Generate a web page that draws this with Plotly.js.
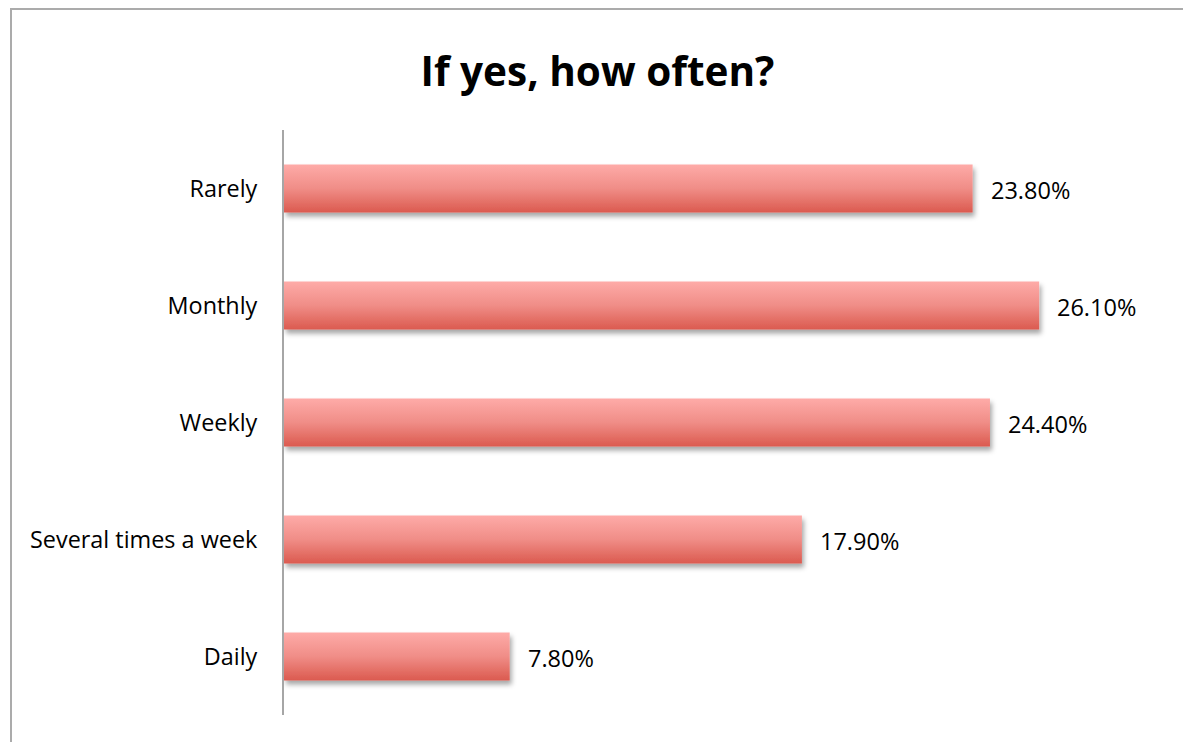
<!DOCTYPE html>
<html>
<head>
<meta charset="utf-8">
<script src="https://cdn.plot.ly/plotly-3.0.1.min.js"></script>
<style>
  html, body { margin: 0; padding: 0; background: #fff; overflow: hidden; }
  #frame { position: absolute; left: 10px; top: 8px; width: 1400px; height: 1000px;
           border-left: 2px solid #ABABAB; border-top: 2px solid #ABABAB; pointer-events: none; }
  #chart { position: absolute; left: 0; top: 0; width: 1183px; height: 742px; }
</style>
</head>
<body>
<div id="chart"></div>
<div id="frame"></div>
<script>
const categories = ["Rarely", "Monthly", "Weekly", "Several times a week", "Daily"];
const percentages = [23.8, 26.1, 24.4, 17.9, 7.8];
const valueLabels = percentages.map(v => v.toFixed(2) + "%");
const chartTitle = "If yes, how often?";

const FONT = "'Open Sans', sans-serif";

const trace = {
  type: "bar",
  orientation: "h",
  x: percentages,
  y: categories,
  width: 0.41,
  marker: { color: "#EE847E", line: { width: 0 } },
  hoverinfo: "none"
};

const annotations = percentages.map((v, i) => ({
  x: v, y: categories[i], xref: "x", yref: "y",
  text: valueLabels[i], showarrow: false,
  xanchor: "left", yanchor: "middle", xshift: 16, yshift: -1,
  font: { family: FONT, size: 23.5, color: "#000" }
}));

const layout = {
  width: 1183, height: 742,
  margin: { l: 284, r: 31, t: 130, b: 27, pad: 0 },
  paper_bgcolor: "rgba(0,0,0,0)",
  plot_bgcolor: "rgba(0,0,0,0)",
  showlegend: false,
  title: {
    text: "<b>" + chartTitle + "</b>",
    font: { family: FONT, size: 40.5, color: "#000" },
    x: 0.505, xref: "container", xanchor: "center",
    y: 0.903, yref: "container", yanchor: "middle"
  },
  xaxis: { range: [0, 30], visible: false, fixedrange: true },
  yaxis: {
    type: "category",
    categoryorder: "array", categoryarray: categories,
    range: [4.5, -0.5],
    showline: true, linecolor: "#A6A6A6", linewidth: 2,
    ticks: "", showgrid: false, zeroline: false,
    ticklabelstandoff: 20,
    tickfont: { family: FONT, size: 23.4, color: "#000" }
  },
  annotations: annotations
};

Plotly.newPlot("chart", [trace], layout, { staticPlot: true, displayModeBar: false }).then(gd => {
  const svg = gd.querySelector("svg.main-svg");
  const ns = "http://www.w3.org/2000/svg";
  let defs = svg.querySelector("defs");
  if (!defs) { defs = document.createElementNS(ns, "defs"); svg.insertBefore(defs, svg.firstChild); }
  const grad = document.createElementNS(ns, "linearGradient");
  grad.setAttribute("id", "barGrad");
  grad.setAttribute("x1", "0"); grad.setAttribute("y1", "0");
  grad.setAttribute("x2", "0"); grad.setAttribute("y2", "1");
  [["0%", "#FEABA8"], ["50%", "#F08D87"], ["100%", "#DB5A4F"]].forEach(([o, c]) => {
    const s = document.createElementNS(ns, "stop");
    s.setAttribute("offset", o); s.setAttribute("stop-color", c);
    grad.appendChild(s);
  });
  defs.appendChild(grad);
  const filt = document.createElementNS(ns, "filter");
  filt.setAttribute("id", "barShadow");
  filt.setAttribute("x", "-10%"); filt.setAttribute("y", "-20%");
  filt.setAttribute("width", "130%"); filt.setAttribute("height", "160%");
  const ds = document.createElementNS(ns, "feDropShadow");
  ds.setAttribute("dx", "2"); ds.setAttribute("dy", "4");
  ds.setAttribute("stdDeviation", "2.5");
  ds.setAttribute("flood-color", "#000"); ds.setAttribute("flood-opacity", "0.35");
  filt.appendChild(ds);
  defs.appendChild(filt);
  gd.querySelectorAll(".barlayer .point path").forEach(p => {
    p.style.fill = "url(#barGrad)";
    p.setAttribute("filter", "url(#barShadow)");
  });
});
</script>
</body>
</html>
